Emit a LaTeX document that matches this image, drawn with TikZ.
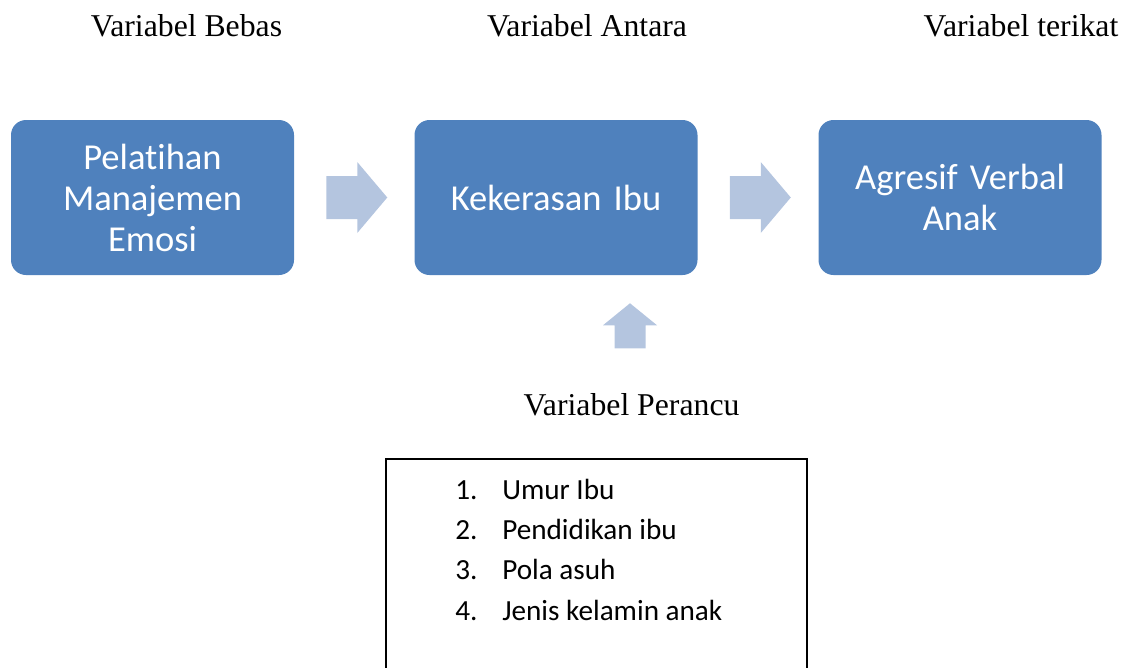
\documentclass[tikz,border=0pt]{standalone}
\usepackage{fontspec}
\setmainfont{Liberation Serif}
\newfontfamily\calibri[Ligatures=NoCommon]{Carlito}
\usetikzlibrary{positioning, calc}
\definecolor{boxblue}{RGB}{79,129,189}
\definecolor{arrowblue}{RGB}{180,197,223}

\begin{document}
\begin{tikzpicture}[x=0.75pt,y=-0.75pt]
\tikzstyle{var}=[rectangle, rounded corners=11.25pt, fill=boxblue, text=white, minimum width=212.25pt, minimum height=116.25pt, text width=205pt, align=center, font=\calibri\fontsize{27.4}{30.75}\selectfont]
\tikzstyle{head}=[anchor=base, font=\fontsize{23.8}{28}\selectfont]
\tikzstyle{blockarrow}=[fill=arrowblue]
\tikzstyle{listbox}=[rectangle, draw=black, line width=1pt, minimum width=315.75pt, minimum height=181.5pt]
\tikzstyle{item}=[anchor=base west, inner sep=0pt, font=\calibri\fontsize{21.9}{24}\selectfont]
\useasboundingbox (0,0) rectangle (1129,668);
\clip (0,0) rectangle (1129,668);
% 1. Headings
%%%%%%%%%%%%%
\node[head] (hbebas) at (186.5,36) {Variabel Bebas};
\node[head] (hantara) at (587,36) {Variabel Antara};
\node[head] (hterikat) at (1021,36) {Variabel terikat};
\node[head] (hperancu) at (631.5,415) {Variabel Perancu};

% 2. Boxes
%%%%%%%%%%
\node[var] (pelatihan) at (152.5,197.5) {Pelat\kern0pt ihan\\Manajemen\\Emosi};
\node[var] (kekerasan) at (556,197.5) {Kekerasan Ibu};
\node[var] (agresif) at (960,197.5) {Agresif Verbal\\Anak};

\node[listbox] (perancu) at (596.5,580) {};
\node[item] (item1) at (455,499) {\makebox[35.25pt][l]{1.}Umur Ibu};
\node[item] (item2) at (455,539.3) {\makebox[35.25pt][l]{2.}Pendidikan ibu};
\node[item] (item3) at (455,579.6) {\makebox[35.25pt][l]{3.}Pola asuh};
\node[item] (item4) at (455,620) {\makebox[35.25pt][l]{4.}Jenis kelamin anak};

% 3. Arrows
%%%%%%%%%%%
\coordinate (a1) at ($(pelatihan.east)+(32,0)$);
\coordinate (a2) at ($(kekerasan.east)+(32,0)$);
\coordinate (a3) at ($(kekerasan.south)+(74,73)$);
\fill[blockarrow] ($(a1)+(0,-21.5)$) -- ++(31,0) -- ++(0,-14) -- ++(30,35.5)
      -- ++(-30,35.5) -- ++(0,-14) -- ++(-31,0) -- cycle;
\fill[blockarrow] ($(a2)+(0,-21.5)$) -- ++(31,0) -- ++(0,-14) -- ++(30,35.5)
      -- ++(-30,35.5) -- ++(0,-14) -- ++(-31,0) -- cycle;
\fill[blockarrow] ($(a3)+(-15.5,0)$) -- ++(0,-23) -- ++(-11.5,0) -- ++(27,-22)
      -- ++(27,22) -- ++(-11.5,0) -- ++(0,23) -- cycle;

\end{tikzpicture}
\end{document}
